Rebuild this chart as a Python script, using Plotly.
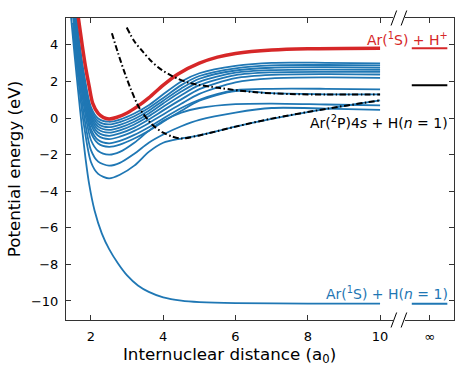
import plotly.graph_objects as go

BLUE = '#1f77b4'
RED = '#d62728'
AXC = '#333333'

# --- data ---
r_ground = [1.45, 1.55, 1.65, 1.75, 1.85, 1.95, 2.1, 2.3, 2.5, 2.75, 3.0, 3.3, 3.6, 4.0, 4.5, 5.0, 6.0, 8.0, 10.0]
e_ground = [5.5, 3.4, 1.4, -0.5, -2.2, -3.6, -5.05, -6.3, -7.15, -7.95, -8.6, -9.15, -9.5, -9.8, -9.98, -10.06, -10.12, -10.14, -10.15]

r_exc = [1.5, 1.65, 1.8, 2.0, 2.2, 2.5, 2.8, 3.2, 3.6, 4.0, 4.5, 5.0, 6.0, 7.0, 8.5, 10.0]
exc_1 = [7.5, 4.6, 2.5, 0.6, -0.02, -0.2, -0.08, 0.25, 0.7, 1.3, 2.0, 2.45, 2.85, 3.02, 3.02, 2.99]
exc_2 = [7.3, 4.45, 2.35, 0.45, -0.17, -0.35, -0.22, 0.1, 0.55, 1.1, 1.8, 2.3, 2.72, 2.88, 2.9, 2.88]
exc_3 = [7.1, 4.3, 2.2, 0.3, -0.32, -0.5, -0.37, -0.05, 0.4, 0.95, 1.62, 2.15, 2.6, 2.75, 2.78, 2.76]
exc_4 = [6.9, 4.15, 2.05, 0.15, -0.47, -0.65, -0.52, -0.2, 0.25, 0.8, 1.45, 1.98, 2.48, 2.62, 2.65, 2.64]
exc_5 = [6.7, 4.0, 1.9, 0.0, -0.62, -0.8, -0.67, -0.35, 0.1, 0.62, 1.25, 1.8, 2.35, 2.5, 2.53, 2.52]
exc_6 = [6.5, 3.85, 1.72, -0.17, -0.79, -0.97, -0.84, -0.52, -0.08, 0.42, 1.02, 1.58, 2.18, 2.36, 2.4, 2.38]
exc_7 = [6.3, 3.7, 1.55, -0.35, -0.97, -1.15, -1.02, -0.7, -0.28, 0.2, 0.78, 1.32, 1.95, 2.17, 2.22, 2.2]
exc_8 = [6.1, 3.5, 1.3, -0.6, -1.2, -1.38, -1.25, -0.92, -0.5, -0.02, 0.55, 1.0, 1.52, 1.6, 1.6, 1.57]
exc_9 = [5.9, 3.35, 1.1, -0.8, -1.39, -1.57, -1.45, -1.12, -0.7, -0.2, 0.4, 0.95, 1.48, 1.36, 1.3, 1.29]
exc_10 = [5.6, 3.0, 0.75, -1.2, -1.8, -2.0, -1.85, -1.35, -0.7, -0.15, 0.3, 0.55, 0.76, 0.79, 0.74, 0.69]
exc_11 = [5.2, 2.6, 0.25, -1.75, -2.38, -2.6, -2.45, -1.95, -1.35, -0.9, -0.45, -0.1, 0.3, 0.55, 0.52, 0.45]
exc_12 = [4.8, 2.1, -0.3, -2.4, -3.05, -3.3, -3.1, -2.6, -1.85, -1.35, -1.12, -0.95, -0.47, -0.05, 0.5, 0.97]

r_ion = [1.65, 1.75, 1.85, 1.95, 2.05, 2.2, 2.35, 2.5, 2.7, 3.0, 3.3, 3.6, 4.0, 4.4, 5.0, 5.5, 6.0, 7.0, 8.0, 10.0]
e_ion = [5.5, 4.1, 2.8, 1.75, 0.8, 0.25, 0.02, -0.05, 0.03, 0.28, 0.65, 1.1, 1.8, 2.4, 3.0, 3.33, 3.53, 3.72, 3.79, 3.82]

r_diab_lo = [2.58, 2.75, 2.92, 3.1, 3.34, 3.7, 4.0, 4.26, 4.5, 5.0, 6.0, 7.0, 8.5, 10.0]
e_diab_lo = [4.64, 3.55, 2.55, 1.6, 0.55, -0.37, -0.8, -1.02, -1.12, -0.95, -0.47, -0.03, 0.5, 0.97]
r_diab_hi = [2.99, 3.2, 3.43, 3.65, 3.89, 4.26, 4.74, 5.57, 6.49, 7.5, 8.5, 10.0]
e_diab_hi = [4.95, 4.2, 3.64, 3.15, 2.73, 2.28, 1.91, 1.64, 1.42, 1.31, 1.29, 1.29]

# asymptotic (R -> infinity) levels
inf_span = [-0.8, 0.8]
inf_ion = 3.82
inf_diab = 1.8
inf_ground = -10.15

excited = [exc_1, exc_2, exc_3, exc_4, exc_5, exc_6, exc_7, exc_8, exc_9, exc_10, exc_11, exc_12]

fig = go.Figure()
fig.add_trace(go.Scatter(x=r_ground, y=e_ground, mode='lines', line=dict(color=BLUE, width=1.8, shape='spline', smoothing=0.8)))
for e in excited:
    fig.add_trace(go.Scatter(x=r_exc, y=e, mode='lines', line=dict(color=BLUE, width=1.8, shape='spline', smoothing=0.8)))
fig.add_trace(go.Scatter(x=r_ion, y=e_ion, mode='lines', line=dict(color=RED, width=3.5, shape='spline', smoothing=0.8)))
for rr, ee in [(r_diab_lo, e_diab_lo), (r_diab_hi, e_diab_hi)]:
    fig.add_trace(go.Scatter(x=rr, y=ee, mode='lines',
                             line=dict(color='black', width=2, dash='6px,2.5px,1.5px,2.5px', shape='spline', smoothing=0.8)))

# right-hand "infinity" panel
for lvl, col in [(inf_ion, RED), (inf_diab, 'black'), (inf_ground, BLUE)]:
    fig.add_trace(go.Scatter(x=inf_span, y=[lvl, lvl], mode='lines', line=dict(color=col, width=2),
                             xaxis='x2', yaxis='y2'))

ax_common = dict(showgrid=False, zeroline=False, showline=True, linecolor=AXC, linewidth=1,
                 ticks='inside', ticklen=5, tickwidth=1, tickcolor=AXC,
                 tickfont=dict(size=13, color='black'))

fig.update_layout(
    width=464, height=372,
    margin=dict(l=66, r=10, t=18, b=52),
    paper_bgcolor='white', plot_bgcolor='white',
    font=dict(family='DejaVu Sans', color='black'),
    showlegend=False,
    xaxis=dict(ax_common, domain=[0, 0.843], range=[1.31, 10.36], tickvals=[2, 4, 6, 8, 10],
               mirror='ticks', ticklabelstandoff=4,
               title=dict(text='Internuclear distance (a<sub>0</sub>)', font=dict(size=16.7), standoff=4)),
    yaxis=dict(ax_common, range=[-11.04, 5.47], tickvals=[-10, -8, -6, -4, -2, 0, 2, 4],
               ticklabelstandoff=4,
               title=dict(text='Potential energy (eV)', font=dict(size=16.7), standoff=6)),
    xaxis2=dict(ax_common, domain=[0.874, 1], range=[-1.1, 1.1], tickvals=[0], ticktext=['∞'],
                mirror='ticks', anchor='y2', ticklabelstandoff=4),
    yaxis2=dict(ax_common, range=[-11.04, 5.47], tickvals=[-10, -8, -6, -4, -2, 0, 2, 4],
                showticklabels=False, side='right', anchor='x2'),
)

# axis break marks
for xa in [0.845, 0.871]:
    for ya in [0, 1]:
        fig.add_shape(type='line', xref='paper', yref='paper', xsizemode='pixel', ysizemode='pixel',
                      xanchor=xa, yanchor=ya, x0=-2.8, x1=2.8, y0=-7.5, y1=7.5,
                      line=dict(color='black', width=1))

fig.add_annotation(text='Ar(<sup>1</sup>S) + H<sup>+</sup>', xref='paper', yref='y', x=0.99, y=4.32,
                   xanchor='right', showarrow=False, font=dict(size=14, color=RED))
fig.add_annotation(text='Ar(<sup>2</sup>P)4<i>s</i> + H(<i>n</i> = 1)', xref='paper', yref='y', x=0.99, y=-0.24,
                   xanchor='right', showarrow=False, font=dict(size=14, color='black'))
fig.add_annotation(text='Ar(<sup>1</sup>S) + H(<i>n</i> = 1)', xref='paper', yref='y', x=0.99, y=-9.54,
                   xanchor='right', showarrow=False, font=dict(size=14, color=BLUE))

fig.write_html('out.html', config={'displayModeBar': False},
               post_script="document.body.style.margin='0';")
